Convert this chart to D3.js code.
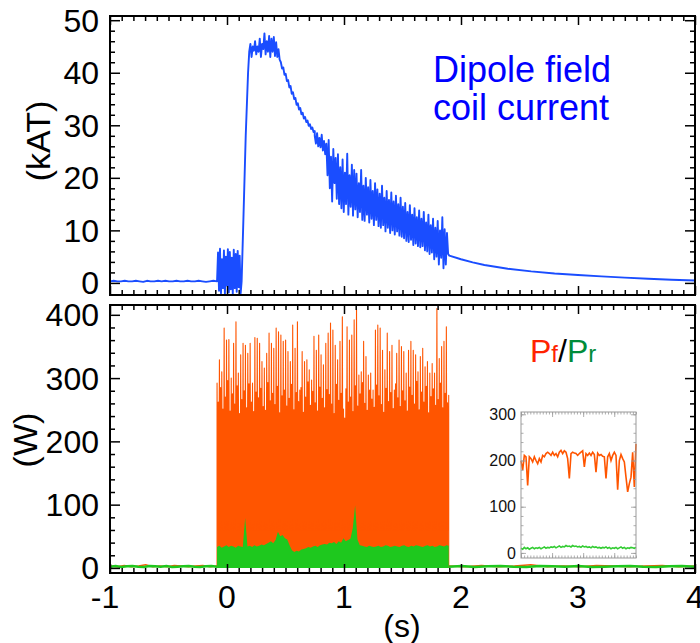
<!DOCTYPE html>
<html><head><meta charset="utf-8">
<script src="https://cdn.jsdelivr.net/npm/d3@7"></script>
<style>body{margin:0;background:#fff}svg{display:block}text{font-family:"Liberation Sans",Arial,sans-serif}</style>
</head><body><svg id="c" width="700" height="643"></svg>
<script>
// ---------- data ----------
const xTicks = [-1, 0, 1, 2, 3, 4];
const topTicks = [0, 10, 20, 30, 40, 50];
const botTicks = [0, 100, 200, 300, 400];
const insetTicks = [0, 100, 200, 300];

// dipole coil current (kAT), pieces in time order
const coilPre = [0.3,0.4,0.3,0.3,0.4,0.3,0.3,0.4,0.3,0.2,0.4,0.3,0.3,0.4,0.3,0.4,0.3,0.3,0.4,0.3,0.3,0.4,0.3,0.3,0.4,0.3,0.2,0.3,0.4,0.3];
const coilBurst = [0.3,5.8,-1.5,6.5,-2.0,4.5,-1.0,6.2,-2.1,5.0,-0.5,6.4,-1.8,5.9,-1.2,4.8,-2.2,6.3,-1.0,5.5,-1.7,6.1,-0.8,5.2,-2.0,0.3];
const coilRiseT = [0.125, 0.14, 0.16, 0.18, 0.19];
const coilRiseV = [0.3, 12, 28, 40, 44];
const coilPlateau = [44,45.5,43,45,44.2,46,43.5,45,44,46.5,43,45.5,44.5,47.5,43.5,46,44,47,43,46.5,44,46.8,43.2,45.8,43,44.5,42.5];
const coilDecay = [42.5,42.0,40.8,41.0,39.6,39.8,38.4,38.6,37.2,37.5,36.0,36.3,35.0,35.2,33.9,34.2,33.0,33.3,32.1,32.4,31.3,31.6,30.6,30.9,29.9,30.2,29.3,29.6,28.7,28.9];
const coilNoisy = [28.0,26.5,28.5,26.0,27.6,25.8,28.2,25.2,27.0,24.5,
  26.5,20.5,27.2,18.0,24.0,15.5,25.5,19.0,23.8,16.0,
  24.5,15.0,22.0,14.2,23.5,13.5,21.0,15.0,24.6,13.0,20.5,14.5,22.5,12.8,21.5,14.0,
  20.8,12.5,19.0,13.5,21.5,12.0,18.5,11.8,20.0,13.0,18.2,11.5,19.6,12.2,17.5,11.0,19.0,12.0,17.8,10.8,
  17.0,10.5,18.5,11.0,16.2,9.8,17.5,10.5,15.8,9.5,17.2,10.0,15.5,9.2,16.6,9.8,15.0,9.0,16.2,8.8,
  14.5,8.5,15.2,8.0,13.5,7.8,14.8,8.2,13.0,7.2,14.2,7.5,12.5,7.0,13.8,6.8,12.2,7.0,13.5,6.2,
  11.5,6.0,13.0,5.5,11.0,5.8,12.2,4.5,10.5,5.0,11.8,3.5,10.0,4.8,12.5,2.8,10.2,3.5,9.5,5.5];
const coilTailT = [1.9,2.0,2.1,2.2,2.4,2.6,2.8,3.0,3.2,3.4,3.6,3.8,4.0];
const coilTailV = [5.2,4.5,3.9,3.4,2.7,2.2,1.8,1.5,1.25,1.0,0.8,0.6,0.45];

// forward power Pf (W): spike peaks and in-between secondary peaks across the pulse
const pfPeaks = [292,329,310,379,360,361,300,355,389,308,337,355,352,339,355,292,364,363,355,326,316,339,371,355,347,379,373,368,358,360,342,326,384,347,389,281,342,326,329,313,297,366,344,368,337,321,355,371,387,376,352,329,358,397,237,381,360,368,392,408,305,310,358,334,305,308,281,376,384,379,344,313,371,342,352,281,339,360,350,342,308,344,358,344,337,310,334,347,318,326,308,323,308,410,331,350,358,381,273];
const pfMid = [262,285,251,270,296,248,275,259,288,244,266,280,253,291,262,247,278,269,284,255,
  249,293,264,276,258,287,245,272,281,256,268,290,250,277,263,285,246,270,294,257,
  279,261,248,286,268,253,282,274,259,244,290,265,276,251,283,262,270,247,288,256,
  275,293,260,249,281,267,254,289,272,258,246,284,263,277,252,291,269,255,280,264,
  248,286,273,259,295,250,278,262,287,245,271,283,257,266,292,253,276,261,268];
const pfDense = [232,236,230,234,228,231,226,235,230,233,229,232,236];
const pfBase = [3,2,4,2,3,5,2,3,2,4,3,2,3,4,2,3];
// reflected power Pr (W)
const prTop = [33,35,32,34,36,33,35,34,32,35,34,33,
  79,
  34,35,33,36,34,35,37,36,38,
  40,42,39,44,
  57,50,52,47,45,
  36,28,25,27,26,29,
  30,31,33,32,34,35,33,36,37,
  38,37,40,39,41,38,42,40,
  47,42,44,46,63,99,45,
  36,35,34,33,35,34,33,34,35,33,34,36,35,33,34,35,34,33,35,36,34,33,35,34,36,35,34,33,35,36,34,35,33,34,36,35,34,36,35];
const prBase = [2,3,1.5,2.5,3,2,1.5,3,2.5,2,3,1.5,2,2.5,3,2,1.5,2.5,3,2];

// inset
const insetPf = [200,179,211,208,146,208,204,197,208,200,193,204,197,211,208,215,218,215,211,218,211,215,208,218,222,215,221,218,204,161,215,218,216,215,211,215,218,221,186,215,211,216,211,218,213,175,216,211,213,209,208,161,208,215,200,211,218,211,137,200,213,204,197,164,132,150,164,218,143,236];
const insetPr = [10,8,12,9,11,8,10,12,9,11,10,12,9,11,13,10,12,11,13,12,14,11,13,15,12,14,13,16,14,15,13,16,14,15,13,14,12,15,13,14,12,13,11,14,12,13,11,12,10,12,11,13,10,12,9,11,10,12,9,11,13,10,12,9,11,10,12,11,10,12];

// ---------- drawing ----------
const BLUE = "#1a4dff", ORANGE = "#ff5500", GREEN = "#1ec81e";
const svg = d3.select("#c");
const L = 110, R = 695;
const x = d3.scaleLinear([-1, 4], [L, R]);
const yTop = d3.scaleLinear([-2.3, 50.8], [295, 16]);
const yBot = d3.scaleLinear([-8, 415.5], [573, 305]);

function seg(t0, t1, vals) {
  const n = vals.length - 1;
  return vals.map((v, i) => [t0 + (t1 - t0) * i / n, v]);
}
function zip(ts, vs) { return ts.map((t, i) => [t, vs[i]]); }

// ---- top panel data ----
const coilPts = [].concat(
  seg(-1, -0.085, coilPre), seg(-0.085, 0.125, coilBurst), zip(coilRiseT, coilRiseV),
  seg(0.19, 0.45, coilPlateau), seg(0.45, 0.75, coilDecay), seg(0.75, 1.89, coilNoisy),
  zip(coilTailT, coilTailV));
svg.append("clipPath").attr("id", "ct").append("rect")
  .attr("x", L).attr("y", 16).attr("width", R - L).attr("height", 279);
svg.append("path").attr("clip-path", "url(#ct)")
  .attr("d", d3.line().x(d => x(d[0])).y(d => yTop(d[1]))(coilPts))
  .attr("fill", "none").attr("stroke", BLUE).attr("stroke-width", 1.9).attr("stroke-linejoin", "round");

// ---- bottom panel data ----
const gB = svg.append("g");
const t0 = -0.085, t1 = 1.895;
const lineB = d3.line().x(d => x(d[0])).y(d => yBot(d[1]));
gB.append("path").attr("d", lineB(seg(-1, t0, pfBase)))
  .attr("fill", "none").attr("stroke", ORANGE).attr("stroke-width", 1.5);
gB.append("path").attr("d", lineB(seg(t1, 4, pfBase)))
  .attr("fill", "none").attr("stroke", ORANGE).attr("stroke-width", 1.5);
// dense body
gB.append("path").attr("d", d3.area().x(d => x(d[0])).y0(yBot(0)).y1(d => yBot(d[1]))(seg(t0, t1, pfDense)))
  .attr("fill", ORANGE);
// spikes as zigzag: peak -> low -> secondary peak -> low -> next peak
const nP = pfPeaks.length;
const dt = (t1 - t0) / (nP - 1);
const zig = [[t0, 0]];
pfPeaks.forEach((p, i) => {
  const t = t0 + i * dt;
  zig.push([t, p]);
  if (i < nP - 1) {
    zig.push([t + dt * 0.25, 60]);
    zig.push([t + dt * 0.5, pfMid[i]]);
    zig.push([t + dt * 0.75, 60]);
  }
});
zig.push([t1, 0]);
gB.append("path").attr("d", lineB(zig))
  .attr("fill", "none").attr("stroke", ORANGE).attr("stroke-width", 1.1).attr("stroke-linejoin", "round");
// green
gB.append("path").attr("d", lineB(seg(-1, t0, prBase)))
  .attr("fill", "none").attr("stroke", GREEN).attr("stroke-width", 2.5);
gB.append("path").attr("d", lineB(seg(t1, 4, prBase)))
  .attr("fill", "none").attr("stroke", GREEN).attr("stroke-width", 2.5);
gB.append("path").attr("d", d3.area().x(d => x(d[0])).y0(yBot(0)).y1(d => yBot(d[1]))(seg(t0, t1, prTop)))
  .attr("fill", GREEN);

// ---- axes & frames ----
function range(a, b, s) { const r = []; for (let v = a; v <= b + 1e-9; v += s) r.push(+v.toFixed(6)); return r; }
const xMinor = range(-1, 4, 0.1).filter(v => Math.abs(v - Math.round(v)) > 1e-6);
function panel(y, top, bot, majors, minors) {
  const g = svg.append("g");
  const ax = (gen, tr, vals, size) => {
    const a = g.append("g").attr("transform", tr).call(gen.tickValues(vals).tickSize(-size).tickFormat(""));
    a.select(".domain").remove();
    a.selectAll("text").remove();
    a.selectAll("line").attr("stroke", "#000").attr("stroke-width", 1.5);
  };
  ax(d3.axisBottom(x), `translate(0,${bot})`, xTicks, 9);
  ax(d3.axisBottom(x), `translate(0,${bot})`, xMinor, 5);
  ax(d3.axisTop(x), `translate(0,${top})`, xTicks, 9);
  ax(d3.axisTop(x), `translate(0,${top})`, xMinor, 5);
  ax(d3.axisLeft(y), `translate(${L},0)`, majors, 10);
  ax(d3.axisLeft(y), `translate(${L},0)`, minors, 5);
  ax(d3.axisRight(y), `translate(${R},0)`, majors, 10);
  ax(d3.axisRight(y), `translate(${R},0)`, minors, 5);
  g.append("rect").attr("x", L).attr("y", top).attr("width", R - L).attr("height", bot - top)
    .attr("fill", "none").attr("stroke", "#000").attr("stroke-width", 2);
  g.selectAll("text.yl").data(majors).join("text").attr("class", "yl")
    .attr("x", 99).attr("y", d => y(d)).attr("dy", "0.36em").attr("text-anchor", "end")
    .attr("font-size", 32).text(d => d);
}
panel(yTop, 16, 295, topTicks, range(0, 50, 2).filter(v => v % 10 !== 0));
panel(yBot, 305, 573, botTicks, range(0, 400, 20).filter(v => v % 100 !== 0));

svg.selectAll("text.xl").data(xTicks).join("text").attr("class", "xl")
  .attr("x", d => x(d) - (d < 0 ? 5 : 0)).attr("y", 608).attr("text-anchor", "middle")
  .attr("font-size", 32).text(d => d);
svg.append("text").attr("x", 402).attr("y", 637).attr("text-anchor", "middle").attr("font-size", 32).text("(s)");
svg.append("text").attr("transform", "translate(50,141) rotate(-90)").attr("text-anchor", "middle").attr("font-size", 34).text("(kAT)");
svg.append("text").attr("transform", "translate(37,440) rotate(-90)").attr("text-anchor", "middle").attr("font-size", 34).text("(W)");

// annotations
svg.append("text").attr("x", 433).attr("y", 82).attr("font-size", 36).attr("fill", "#0000ff").text("Dipole field");
svg.append("text").attr("x", 433).attr("y", 120).attr("font-size", 36).attr("fill", "#0000ff").text("coil current");
const lg = svg.append("text").attr("x", 530).attr("y", 362).attr("font-size", 32);
lg.append("tspan").attr("fill", "#ff2200").text("P");
lg.append("tspan").attr("fill", "#ff2200").attr("font-size", 24).text("f");
lg.append("tspan").attr("fill", "#000").text("/");
lg.append("tspan").attr("fill", "#008c3a").text("P");
lg.append("tspan").attr("fill", "#008c3a").attr("font-size", 24).text("r");

// ---- inset ----
const iL = 521, iR = 636, iT = 412, iB = 558;
const xi = d3.scaleLinear([0, insetPf.length - 1], [iL, iR]);
const xiT = d3.scaleLinear([0, 3.7], [iL, iR]);
const yi = d3.scaleLinear([-11, 305], [iB, iT]);
const gi = svg.append("g");
gi.append("rect").attr("x", iL).attr("y", iT).attr("width", iR - iL).attr("height", iB - iT).attr("fill", "#fff");
gi.append("path").attr("d", d3.line().x((d, i) => xi(i)).y(d => yi(d))(insetPf))
  .attr("fill", "none").attr("stroke", ORANGE).attr("stroke-width", 1.6);
gi.append("path").attr("d", d3.line().x((d, i) => xi(i)).y(d => yi(d))(insetPr))
  .attr("fill", "none").attr("stroke", "#33cc33").attr("stroke-width", 1.6);
const iax = (gen, tr, vals, size) => {
  const a = gi.append("g").attr("transform", tr).call(gen.tickValues(vals).tickSize(-size).tickFormat(""));
  a.select(".domain").remove();
  a.selectAll("text").remove();
  a.selectAll("line").attr("stroke", "#999").attr("stroke-width", 0.8);
};
const xiMaj = [0, 1, 2, 3], xiMin = range(0, 3.7, 0.1);
iax(d3.axisBottom(xiT), `translate(0,${iB})`, xiMaj, 5);
iax(d3.axisBottom(xiT), `translate(0,${iB})`, xiMin, 2.5);
iax(d3.axisTop(xiT), `translate(0,${iT})`, xiMaj, 5);
iax(d3.axisTop(xiT), `translate(0,${iT})`, xiMin, 2.5);
iax(d3.axisLeft(yi), `translate(${iL},0)`, insetTicks, 5);
iax(d3.axisLeft(yi), `translate(${iL},0)`, range(0, 300, 20), 2.5);
iax(d3.axisRight(yi), `translate(${iR},0)`, insetTicks, 5);
iax(d3.axisRight(yi), `translate(${iR},0)`, range(0, 300, 20), 2.5);
gi.append("rect").attr("x", iL).attr("y", iT).attr("width", iR - iL).attr("height", iB - iT)
  .attr("fill", "none").attr("stroke", "#999").attr("stroke-width", 1);
gi.selectAll("text.il").data(insetTicks).join("text").attr("class", "il").attr("x", 516).attr("y", d => yi(d)).attr("dy", "0.36em")
  .attr("text-anchor", "end").attr("font-size", 16).attr("fill", "#111").text(d => d);
</script></body></html>
